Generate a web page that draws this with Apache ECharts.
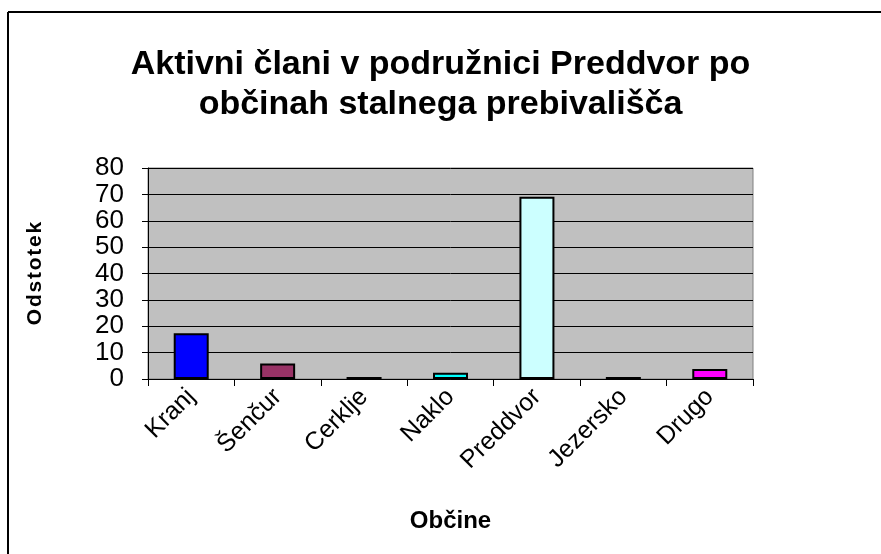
<!DOCTYPE html>
<html>
<head>
    <meta charset="utf-8">
    <title>Aktivni člani</title>
    <script src="https://cdn.jsdelivr.net/npm/echarts@6/dist/echarts.min.js"></script>
    <style>
        html, body { margin: 0; padding: 0; background: #fff; }
    </style>
</head>
<body>
    <div id="main" style="width: 881px;height:554px;"></div>
    <script type="text/javascript">
        // podatki
        var obcine = ['Kranj', 'Šenčur', 'Cerklje', 'Naklo', 'Preddvor', 'Jezersko', 'Drugo'];
        var odstotki = [17.3, 5.9, 0.8, 2.4, 69.1, 0.8, 3.8];
        var barve = ['#0000FF', '#993366', '#FFFFCC', '#00FFFF', '#CCFFFF', '#660066', '#FF00FF'];
        var yTicks = [0, 10, 20, 30, 40, 50, 60, 70, 80];

        var font = '"Liberation Sans", Arial, sans-serif';
        var myChart = echarts.init(document.getElementById('main'));

        var option = {
            backgroundColor: '#fff',
            animation: false,
            title: {
                text: 'Aktivni člani v podružnici Preddvor po\nobčinah stalnega prebivališča',
                left: 'center',
                top: 40,
                textStyle: {
                    fontFamily: font,
                    fontSize: 34,
                    fontWeight: 'bold',
                    color: '#000',
                    lineHeight: 40
                }
            },
            graphic: [
                { type: 'line', shape: { x1: 8, y1: 12, x2: 881, y2: 12 }, style: { stroke: '#000', lineWidth: 2 } },
                { type: 'line', shape: { x1: 8, y1: 12, x2: 8, y2: 554 }, style: { stroke: '#000', lineWidth: 2 } }
            ],
            grid: {
                left: 148,
                right: 128,
                top: 168,
                bottom: 175,
                show: true,
                backgroundColor: '#C0C0C0',
                borderColor: '#808080',
                borderWidth: 1
            },
            xAxis: {
                type: 'category',
                data: obcine,
                name: 'Občine',
                nameLocation: 'middle',
                nameGap: 130,
                nameTextStyle: { fontFamily: font, fontSize: 24, fontWeight: 'bold', color: '#000' },
                axisLine: { lineStyle: { color: '#000', width: 1 } },
                axisTick: { show: true, length: 7, lineStyle: { color: '#000' } },
                axisLabel: { rotate: 45, interval: 0, fontFamily: font, fontSize: 25, color: '#000', margin: 14 }
            },
            yAxis: {
                type: 'value',
                min: yTicks[0],
                max: yTicks[yTicks.length - 1],
                interval: 10,
                name: 'O\u200Ad\u200As\u200At\u200Ao\u200At\u200Ae\u200Ak',
                nameLocation: 'middle',
                nameGap: 102,
                nameTextStyle: { fontFamily: font, fontSize: 21, fontWeight: 'bold', color: '#000' },
                axisLine: { show: true, lineStyle: { color: '#000', width: 1 } },
                axisTick: { show: true, length: 6, lineStyle: { color: '#000' } },
                axisLabel: {
                    fontFamily: font, fontSize: 26, lineHeight: 24, color: '#000', margin: 24,
                    showMinLabel: true, showMaxLabel: true, hideOverlap: false
                },
                splitLine: { show: true, lineStyle: { color: '#000', width: 1 } }
            },
            series: [{
                type: 'bar',
                barWidth: 35,
                data: odstotki.map(function (v, i) {
                    return { value: v, itemStyle: { color: barve[i] } };
                }),
                itemStyle: { borderColor: '#000', borderWidth: 2 }
            }]
        };

        myChart.setOption(option);
    </script>
</body>
</html>
